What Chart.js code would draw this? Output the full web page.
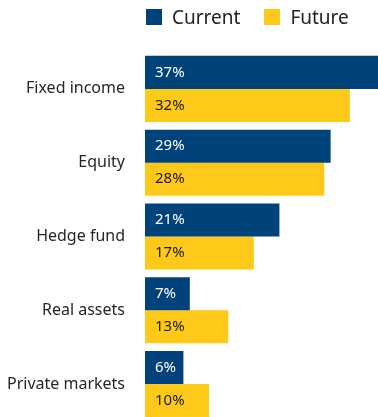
<!DOCTYPE html>
<html>
<head>
<meta charset="utf-8">
<script src="https://cdn.jsdelivr.net/npm/chart.js@4/dist/chart.umd.min.js"></script>
<style>
  html, body { margin: 0; padding: 0; background: #fff; overflow: hidden; }
  #wrap { position: relative; width: 378px; height: 421px; }
  #legend {
    position: absolute; left: 146px; top: 9px; height: 16px;
    display: flex; align-items: center;
    font-family: "Noto Sans", sans-serif; font-size: 19px; color: #222;
  }
  #legend .item { display: flex; align-items: center; margin-right: 24px; }
  #legend .box { width: 16px; height: 16px; margin-right: 10px; }
</style>
</head>
<body>
<div id="wrap">
  <div id="legend"></div>
  <canvas id="canvas"></canvas>
</div>
<script>
// allocation by asset class, in percent
let categories = ['Fixed income', 'Equity', 'Hedge fund', 'Real assets', 'Private markets'];
let current = [37, 29, 21, 7, 6];
let future  = [32, 28, 17, 13, 10];
let seriesNames = ['Current', 'Future'];

let blue = '#00437b';
let yellow = '#fec918';

let width = 378;
let height = 421;

// writes "37%" etc. just inside the left end of each bar
let barLabels = {
  id: 'barLabels',
  afterDatasetsDraw(chart) {
    let ctx = chart.ctx;
    ctx.save();
    ctx.font = '15px "Noto Sans", sans-serif';
    ctx.textBaseline = 'middle';
    ctx.textAlign = 'left';
    chart.data.datasets.forEach((ds, i) => {
      ctx.fillStyle = i === 0 ? '#ffffff' : '#1a1a1a';
      chart.getDatasetMeta(i).data.forEach((bar, j) => {
        ctx.fillText(ds.data[j] + '%', bar.base + 10, bar.y);
      });
    });
    ctx.restore();
  }
};

let options = {
  type: 'bar',
  data: {
    labels: categories,
    datasets: [
      { label: seriesNames[0], data: current, backgroundColor: blue },
      { label: seriesNames[1], data: future, backgroundColor: yellow }
    ]
  },
  options: {
    indexAxis: 'y',
    animation: false,
    responsive: false,
    layout: { padding: { top: 52, right: 0, bottom: 0, left: 0 } },
    datasets: {
      bar: { barPercentage: 1.0, categoryPercentage: 0.895 }
    },
    scales: {
      x: { display: false, min: 0, max: 36.4 },
      y: {
        grid: { display: false, drawTicks: false },
        border: { display: false },
        ticks: {
          padding: 20,
          color: '#262626',
          font: { family: '"Noto Sans", sans-serif', size: 16 }
        },
        // fixed label column; no extra room above/below the bars
        afterFit(scale) {
          scale.width = 145;
          scale.paddingTop = 0;
          scale.paddingBottom = 0;
        }
      }
    },
    plugins: {
      legend: { display: false },
      tooltip: { enabled: false }
    }
  },
  plugins: [barLabels]
};

let canvas = document.getElementById('canvas');
canvas.width = width;
canvas.height = height;

let chart = new Chart(canvas, options);

// legend built from the same series
let legend = document.getElementById('legend');
[blue, yellow].forEach((c, i) => {
  let item = document.createElement('div');
  item.className = 'item';
  item.innerHTML = '<span class="box" style="background:' + c + '"></span>' + seriesNames[i];
  legend.appendChild(item);
});
</script>
</body>
</html>
